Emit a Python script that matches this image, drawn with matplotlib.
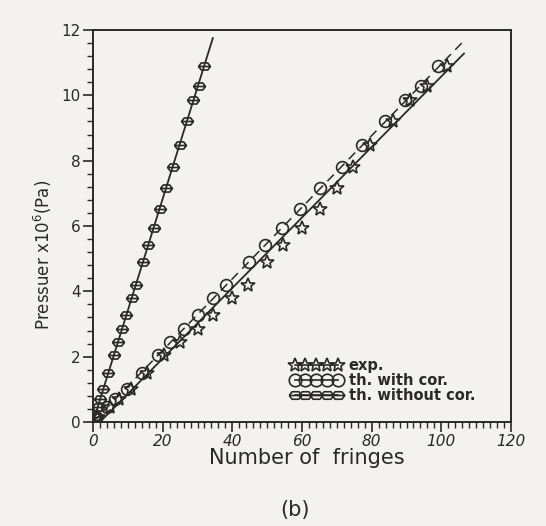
import matplotlib
matplotlib.use("Agg")
import matplotlib.pyplot as plt
from matplotlib.path import Path
from matplotlib.ticker import MultipleLocator

# ---- data ----
pressure = [10.9, 10.3, 9.86, 9.2, 8.48, 7.81, 7.17, 6.52, 5.95, 5.42, 4.9,
            4.19, 3.79, 3.27, 2.85, 2.45, 2.05, 1.5, 1.02, 0.7, 0.45, 0.15]
fringes_exp = [101.5, 96, 91, 86, 79.5, 74.7, 70, 65.2, 59.9, 54.6, 49.9,
               44.6, 39.8, 34.5, 30.2, 25, 20.5, 15.5, 11, 7.5, 5, 1.5]
fringes_with_cor = [99.1, 94.2, 89.6, 83.8, 77.1, 71.6, 65.2, 59.4, 54.4, 49.4, 44.8,
                    38.2, 34.5, 30.0, 26.0, 22.0, 18.8, 14.0, 9.7, 6.3, 4.0, 1.0]
fringes_without_cor = [32, 30.3, 28.8, 27, 24.9, 23, 21.1, 19.2, 17.5, 15.9, 14.4,
                       12.3, 11.1, 9.6, 8.4, 7.2, 6.0, 4.4, 3.0, 2.1, 1.3, 0.5]

fit_exp_x = [2, 106.5]
fit_exp_y = [0, 11.28]
fit_cor_x = [0, 106.5]
fit_cor_y = [0, 11.67]
fit_wo_x = [0, 34.4]
fit_wo_y = [0, 11.75]

legend_labels = ["exp.", "th. with cor.", "th. without cor."]
xlabel = "Number of  fringes"
ylabel = r"Pressuer x10$^{6}$(Pa)"
panel = "(b)"

# ---- style ----
ink = "#2b2926"
paper = "#f3f2ef"

theta_marker = Path(
    [(-1, 0), (-0.55, 0.6), (0.55, 0.6), (1, 0), (0.55, -0.6), (-0.55, -0.6), (-1, 0),
     (-1, 0), (1, 0)],
    [Path.MOVETO, Path.LINETO, Path.LINETO, Path.LINETO, Path.LINETO, Path.LINETO, Path.LINETO,
     Path.MOVETO, Path.LINETO])

fig = plt.figure(figsize=(5.46, 5.26), dpi=100, facecolor=paper)
ax = fig.add_axes([93 / 546, 1 - 422 / 526, 418 / 546, 392 / 526], facecolor=paper)

ax.plot(fit_wo_x, fit_wo_y, color=ink, lw=1.3)
ax.plot(fit_exp_x, fit_exp_y, color=ink, lw=1.3)
ax.plot(fit_cor_x, fit_cor_y, color=ink, lw=1.1, ls=(0, (6, 4)))

ms = 8.5
ax.plot(fringes_exp, pressure, ls="none", marker="*", ms=10.5, mfc="none", mec=ink, mew=1.2)
ax.plot(fringes_with_cor, pressure, ls="none", marker="o", ms=8.5, mfc="none", mec=ink, mew=1.2)
ax.plot(fringes_without_cor, pressure, ls="none", marker=theta_marker, ms=ms, mfc="none", mec=ink, mew=1.2)

# legend handles with repeated markers
h1, = ax.plot([], [], color=ink, lw=1.2, marker="*", ms=10.5, mfc="none", mec=ink, mew=1.2)
h2, = ax.plot([], [], color=ink, lw=1.2, marker="o", ms=9, mfc="none", mec=ink, mew=1.2)
h3, = ax.plot([], [], color=ink, lw=1.2, marker=theta_marker, ms=9, mfc="none", mec=ink, mew=1.2)
leg = ax.legend([h1, h2, h3], legend_labels, numpoints=5, frameon=False,
                loc="upper left", bbox_to_anchor=(0.4545, 0.182), borderpad=0,
                handlelength=3.55, handletextpad=0.45, labelspacing=0.0,
                prop={"family": "DejaVu Sans", "size": 10.5, "weight": "bold"})
for t in leg.get_texts():
    t.set_color(ink)

ax.set_xlim(0, 120)
ax.set_ylim(0, 12)
ax.xaxis.set_major_locator(MultipleLocator(20))
ax.xaxis.set_minor_locator(MultipleLocator(2))
ax.yaxis.set_major_locator(MultipleLocator(2))
ax.yaxis.set_minor_locator(MultipleLocator(0.4))
ax.tick_params(which="major", direction="out", length=7, width=1.2, color=ink,
               labelsize=11, labelcolor=ink, pad=2)
ax.tick_params(which="minor", direction="out", length=4, width=1.0, color=ink)
for lab in ax.get_xticklabels():
    lab.set_fontstyle("italic")
for s in ax.spines.values():
    s.set_color(ink)
    s.set_linewidth(1.4)

fig.text(307 / 546, 1 - 458 / 526, xlabel, fontsize=15, color=ink, ha="center", va="center")
fig.text(43 / 546, 1 - 255 / 526, ylabel, fontsize=12, color=ink, ha="center", va="center",
         rotation=90)
fig.text(295 / 546, 1 - 510 / 526, panel, fontsize=15, color=ink, ha="center", va="center")

fig.savefig("out.png", dpi=100, facecolor=paper)
